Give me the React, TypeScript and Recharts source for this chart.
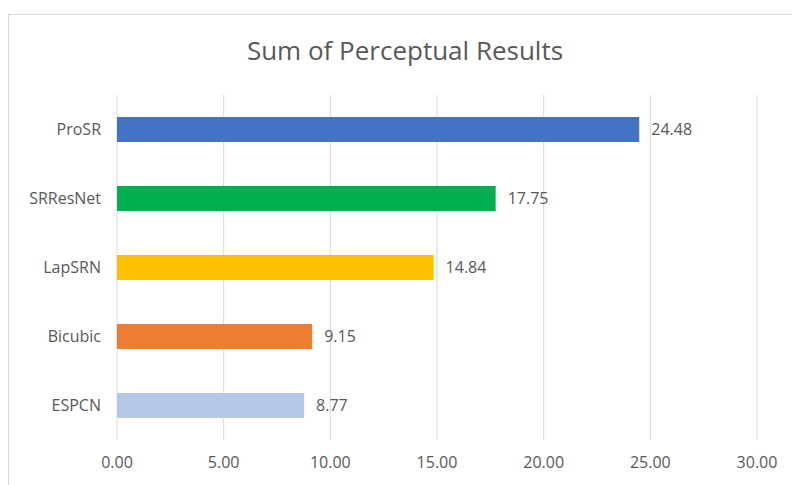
import { Bar, BarChart, CartesianGrid, Cell, LabelList, XAxis, YAxis } from "recharts"

const methods = ["ProSR", "SRResNet", "LapSRN", "Bicubic", "ESPCN"]
const scores = [24.48, 17.75, 14.84, 9.15, 8.77]
const barColors = ["#4472C4", "#00B050", "#FFC000", "#ED7D31", "#B4C7E7"]
const xTicks = [0, 5, 10, 15, 20, 25, 30]

const data = methods.map((name, i) => ({ name, score: scores[i] }))

const font = "'Open Sans', sans-serif"
const textColor = "#595959"

export default function App() {
  return (
    <div style={{ position: "absolute", left: 0, top: 0, width: 792, height: 485, overflow: "hidden", background: "#fff" }}>
      <div
        style={{
          position: "absolute",
          left: 8,
          top: 14,
          width: 820,
          height: 500,
          borderLeft: "1px solid #d9d9d9",
          borderTop: "1px solid #d9d9d9",
        }}
      />
      <div
        style={{
          position: "absolute",
          left: 0,
          width: 810,
          top: 32,
          textAlign: "center",
          fontFamily: font,
          fontSize: 26,
          color: textColor,
          lineHeight: "36px",
        }}
      >
        Sum of Perceptual Results
      </div>
      <div style={{ position: "absolute", left: 0, top: 0 }}>
        <BarChart
          width={792}
          height={485}
          data={data}
          layout="vertical"
          margin={{ top: 95, right: 35, bottom: 15, left: 0 }}
        >
          <CartesianGrid horizontal={false} stroke="#d9d9d9" />
          <XAxis
            type="number"
            domain={[0, 30]}
            ticks={xTicks}
            tickFormatter={(v: number) => v.toFixed(2)}
            axisLine={false}
            tickLine={false}
            tickSize={0}
            tickMargin={17}
            height={30}
            tick={{ fill: textColor, fontSize: 16, fontFamily: font }}
          />
          <YAxis
            type="category"
            dataKey="name"
            width={117}
            axisLine={false}
            tickLine={false}
            tickSize={0}
            tickMargin={16}
            tick={{ fill: textColor, fontSize: 16, fontFamily: font }}
          />
          <Bar dataKey="score" barSize={25} isAnimationActive={false}>
            {data.map((d, i) => (
              <Cell key={d.name} fill={barColors[i]} />
            ))}
            <LabelList
              dataKey="score"
              position="right"
              offset={12}
              formatter={(v: number) => v.toFixed(2)}
              style={{ fill: textColor, fontSize: 16, fontFamily: font }}
            />
          </Bar>
        </BarChart>
      </div>
    </div>
  )
}
